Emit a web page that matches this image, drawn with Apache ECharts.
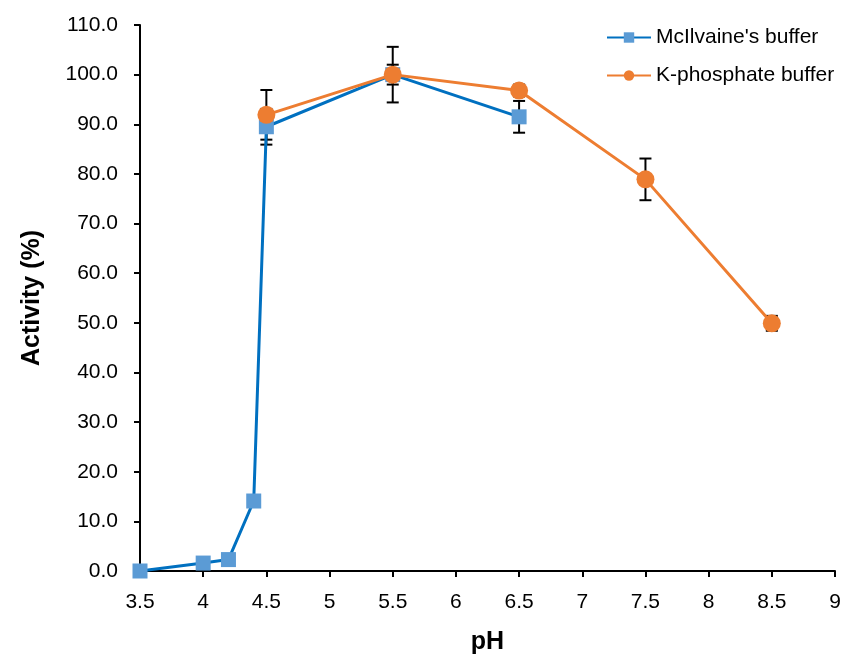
<!DOCTYPE html>
<html><head><meta charset="utf-8">
<script src="https://cdn.jsdelivr.net/npm/echarts@6/dist/echarts.min.js"></script>
<style>html,body{margin:0;padding:0;background:#fff}#c{width:850px;height:660px}</style>
</head><body><div id="c"></div>
<script>
var mcX = [3.5, 4, 4.2, 4.4, 4.5, 5.5, 6.5];
var mcY = [0, 1.6, 2.3, 14.1, 89.5, 100, 91.5];
var mcErr = [0, 0, 0, 0, 3.6, 2.0, 3.2];
var kpX = [4.5, 5.5, 6.5, 7.5, 8.5];
var kpY = [91.9, 100, 96.8, 78.9, 49.9];
var kpErr = [5.0, 5.6, 1.2, 4.2, 1.5];
var yTicks = [0, 10, 20, 30, 40, 50, 60, 70, 80, 90, 100, 110];

function pairs(xs, ys){ return xs.map(function(x,i){return [x, ys[i]];}); }
function errData(xs, ys, es){ return xs.map(function(x,i){return [x, ys[i]-es[i], ys[i]+es[i]];}).filter(function(d){return d[2]>d[1];}); }

function errRender(params, api){
  var x = api.value(0), lo = api.value(1), hi = api.value(2);
  var p1 = api.coord([x, hi]), p2 = api.coord([x, lo]);
  var w = 6;
  var st = {stroke:'#000', lineWidth:2};
  return {type:'group', children:[
    {type:'line', shape:{x1:p1[0],y1:p1[1],x2:p2[0],y2:p2[1]}, style:st},
    {type:'line', shape:{x1:p1[0]-w,y1:p1[1],x2:p1[0]+w,y2:p1[1]}, style:st},
    {type:'line', shape:{x1:p2[0]-w,y1:p2[1],x2:p2[0]+w,y2:p2[1]}, style:st}
  ]};
}

var chart = echarts.init(document.getElementById('c'));
var font = 'Liberation Sans, Arial, sans-serif';
chart.setOption({
  animation:false,
  textStyle:{fontFamily:font},
  grid:{left:140, right:15, top:25, bottom:87, containLabel:false},
  legend:{
    orient:'vertical', left:601, top:22, itemWidth:44, itemHeight:13, itemGap:17,
    textStyle:{fontSize:21, color:'#000', fontFamily:font},
    data:['McIlvaine\'s buffer','K-phosphate buffer']
  },
  xAxis:{
    type:'value', min:3.5, max:9, interval:0.5,
    name:'pH', nameLocation:'middle', nameGap:59,
    nameTextStyle:{fontSize:25, fontWeight:'bold', color:'#000'},
    axisLine:{lineStyle:{color:'#000', width:2}},
    axisTick:{show:true, length:6, lineStyle:{color:'#000', width:2}},
    axisLabel:{fontSize:21, color:'#000', margin:21},
    splitLine:{show:false}
  },
  yAxis:{
    type:'value', min:yTicks[0], max:yTicks[yTicks.length-1], interval:10,
    name:'Activity (%)', nameLocation:'middle', nameGap:95, nameRotate:90,
    nameTextStyle:{fontSize:25, fontWeight:'bold', color:'#000'},
    axisLine:{show:true, lineStyle:{color:'#000', width:2}},
    axisTick:{show:true, length:6, lineStyle:{color:'#000', width:2}},
    axisLabel:{fontSize:21, color:'#000', margin:22, formatter:function(v){return v.toFixed(1);}},
    splitLine:{show:false}
  },
  series:[
    {type:'custom', renderItem:errRender, data:errData(mcX,mcY,mcErr), z:1, zlevel:0, silent:true},
    {type:'custom', renderItem:errRender, data:errData(kpX,kpY,kpErr), z:1, zlevel:0, silent:true},
    {name:'McIlvaine\'s buffer', type:'line', data:pairs(mcX,mcY), z:3, zlevel:1,
     symbol:'rect', symbolSize:15, lineStyle:{color:'#0070C0', width:3},
     itemStyle:{color:'#5B9BD5'}, color:'#0070C0'},
    {name:'K-phosphate buffer', type:'line', data:pairs(kpX,kpY), z:4, zlevel:1,
     symbol:'circle', symbolSize:18, lineStyle:{color:'#ED7D31', width:3},
     itemStyle:{color:'#ED7D31'}, color:'#ED7D31'}
  ]
});
</script></body></html>
